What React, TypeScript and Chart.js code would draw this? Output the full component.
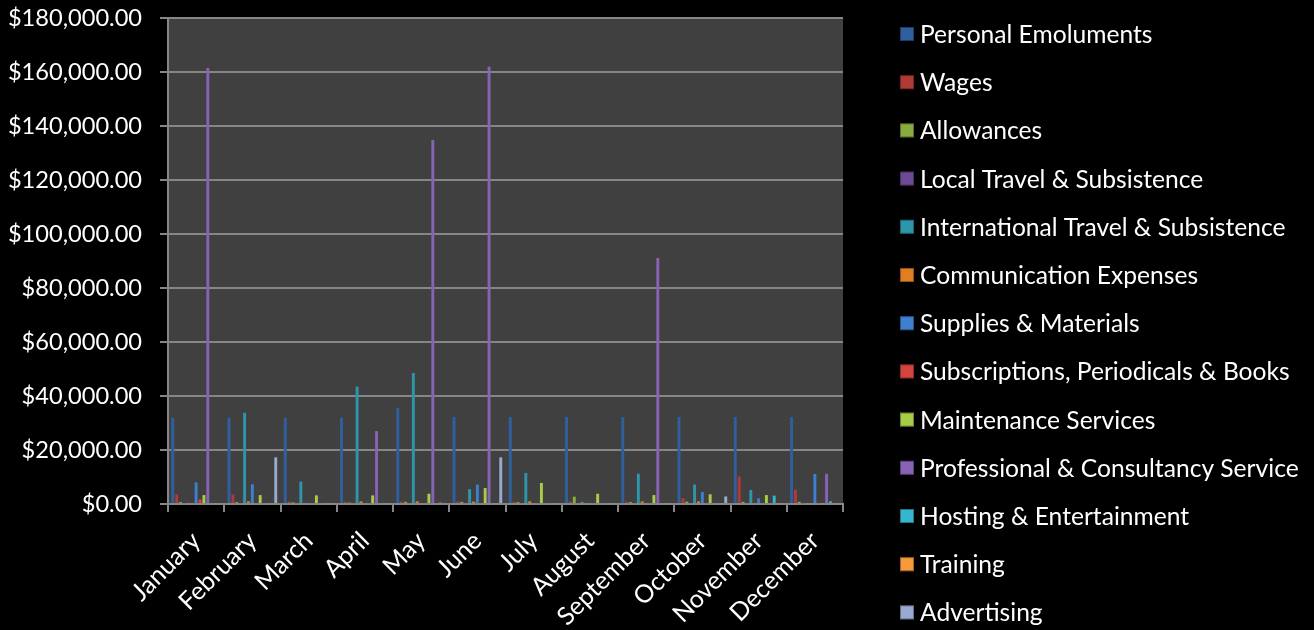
import React, { useEffect, useRef } from 'react';
import { Chart, registerables } from 'chart.js';

Chart.register(...registerables);

const months = ['January', 'February', 'March', 'April', 'May', 'June', 'July', 'August', 'September', 'October', 'November', 'December'];

const seriesNames = [
  'Personal Emoluments',
  'Wages',
  'Allowances',
  'Local Travel & Subsistence',
  'International Travel & Subsistence',
  'Communication Expenses',
  'Supplies & Materials',
  'Subscriptions, Periodicals & Books',
  'Maintenance Services',
  'Professional & Consultancy Service',
  'Hosting & Entertainment',
  'Training',
  'Advertising',
];

const personalEmoluments = [32000, 32000, 32000, 32000, 35600, 32200, 32200, 32200, 32200, 32200, 32200, 32200];
const wages = [3500, 3500, 900, 800, 900, 900, 800, 900, 900, 2200, 10200, 5300];
const allowances = [700, 700, 600, 500, 800, 800, 700, 2700, 700, 900, 800, 800];
const localTravel = [300, 300, 300, 300, 300, 300, 300, 300, 300, 300, 300, 300];
const internationalTravel = [400, 33800, 8300, 43500, 48500, 5500, 11500, 800, 11200, 7200, 5200, 400];
const communication = [300, 1000, 400, 1000, 1000, 900, 1000, 300, 1000, 1000, 300, 300];
const supplies = [8000, 7300, 300, 300, 300, 7200, 300, 300, 300, 4400, 2100, 11100];
const subscriptions = [1700, 300, 300, 300, 300, 300, 300, 300, 300, 300, 300, 300];
const maintenance = [3300, 3300, 3200, 3200, 3800, 5900, 7800, 3800, 3300, 3600, 3300, 300];
const professional = [161500, 300, 300, 27000, 134800, 161900, 300, 300, 91100, 300, 300, 11200];
const hosting = [300, 300, 300, 300, 300, 300, 300, 300, 300, 300, 3100, 1000];
const training = [300, 300, 300, 300, 500, 300, 300, 300, 300, 300, 300, 300];
const advertising = [300, 17300, 300, 300, 300, 17300, 300, 300, 300, 2800, 300, 300];

const seriesValues = [
  personalEmoluments, wages, allowances, localTravel, internationalTravel, communication,
  supplies, subscriptions, maintenance, professional, hosting, training, advertising,
];

const seriesColors = [
  '#2f5f9f', '#b13a36', '#8aab3e', '#6c4a94', '#2e96ab', '#e07e22',
  '#3d80d0', '#d4443f', '#a7cc48', '#8762b5', '#36b5cf', '#f79a3b', '#98aacf',
];

const yTicks = [0, 20000, 40000, 60000, 80000, 100000, 120000, 140000, 160000, 180000];

const FONT = 'Lato';

export default function App() {
  const ref = useRef<HTMLCanvasElement>(null);

  useEffect(() => {
    if (!ref.current) return;

    const bgPlugin = {
      id: 'plotBg',
      beforeDraw(chart: any) {
        const { ctx, chartArea: a } = chart;
        ctx.save();
        ctx.fillStyle = '#000000';
        ctx.fillRect(0, 0, chart.width, chart.height);
        ctx.fillStyle = '#404040';
        ctx.fillRect(a.left, a.top, a.right - a.left, a.bottom - a.top);
        ctx.restore();
      },
    };

    const legendPlugin = {
      id: 'sideLegend',
      afterDraw(chart: any) {
        const ctx = chart.ctx;
        ctx.save();
        ctx.font = `24.6px ${FONT}`;
        ctx.textBaseline = 'middle';
        ctx.textAlign = 'left';
        chart.data.datasets.forEach((ds: any, i: number) => {
          const y = 34 + i * 48.2;
          ctx.fillStyle = ds.backgroundColor;
          ctx.fillRect(900, y - 7, 14, 14);
          ctx.strokeStyle = 'rgba(0,0,0,0.35)';
          ctx.lineWidth = 1;
          ctx.strokeRect(900.5, y - 6.5, 13, 13);
          ctx.fillStyle = '#ffffff';
          ctx.fillText(ds.label, 920, y + 1);
        });
        ctx.restore();
      },
    };

    const chart = new Chart(ref.current, {
      type: 'bar',
      data: {
        labels: months,
        datasets: seriesNames.map((name, i) => ({
          label: name,
          data: seriesValues[i],
          backgroundColor: seriesColors[i],
          borderWidth: 0,
          categoryPercentage: 0.9,
          barPercentage: 0.75,
        })),
      },
      options: {
        animation: false,
        responsive: true,
        maintainAspectRatio: false,
        layout: { padding: { top: 18, right: 471, left: 0, bottom: 0 } },
        plugins: {
          legend: { display: false },
          tooltip: { enabled: false },
        },
        scales: {
          x: {
            offset: true,
            grid: {
              display: true,
              offset: true,
              drawOnChartArea: false,
              drawTicks: true,
              tickLength: 8,
              color: '#868686',
              lineWidth: 2,
            },
            border: { display: true, color: '#868686', width: 2 },
            ticks: {
              color: '#ffffff',
              font: { family: FONT, size: 25 },
              minRotation: 45,
              maxRotation: 45,
              autoSkip: false,
              padding: 14,
            },
            afterFit: (s: any) => { s.height = 126; s.paddingLeft = 0; s.paddingRight = 0; },
          },
          y: {
            min: 0,
            max: 180000,
            afterBuildTicks: (s: any) => { s.ticks = yTicks.map((v) => ({ value: v })); },
            grid: {
              color: '#868686',
              lineWidth: 2,
              tickLength: 8,
              drawTicks: true,
            },
            border: { display: true, color: '#868686', width: 2 },
            ticks: {
              color: '#ffffff',
              font: { family: FONT, size: 23.6 },
              padding: 18,
              callback: (v: any) => '$' + Number(v).toLocaleString('en-US', { minimumFractionDigits: 2, maximumFractionDigits: 2 }),
            },
            afterFit: (s: any) => { s.width = 168; s.paddingTop = 0; s.paddingBottom = 0; },
          },
        },
      },
      plugins: [bgPlugin, legendPlugin],
    });

    return () => chart.destroy();
  }, []);

  return (
    <div style={{ position: 'fixed', left: 0, top: 0, width: 1314, height: 630, background: '#000' }}>
      <canvas ref={ref} />
    </div>
  );
}
